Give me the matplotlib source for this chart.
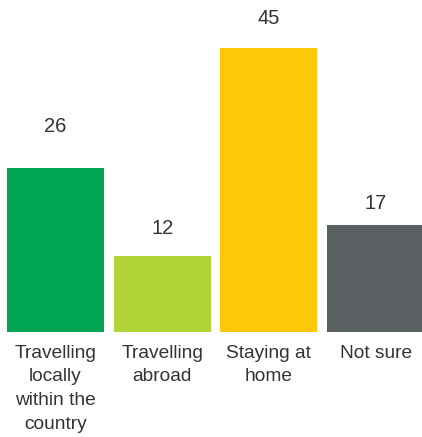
import matplotlib.pyplot as plt

categories = ["Travelling\nlocally\nwithin the\ncountry", "Travelling\nabroad", "Staying at\nhome", "Not sure"]
values = [26, 12, 45, 17]

bar_colors = ["#00A551", "#B2D335", "#FDC70A", "#5A5F61"]
# gap (pixels) between bar top and the value label baseline
label_gaps = [36, 22, 24, 16]
text_color = "#333333"

plt.rcParams["font.family"] = ["Liberation Sans", "DejaVu Sans"]

fig = plt.figure(figsize=(4.22, 4.37), dpi=100)
ax = fig.add_axes([0, 105 / 437, 1, 332 / 437])

x = range(len(values))
bars = ax.bar(x, values, width=0.91, color=bar_colors)

for b, v, gap in zip(bars, values, label_gaps):
    ax.annotate(str(v), (b.get_x() + b.get_width() / 2, v),
                xytext=(0, gap), textcoords="offset pixels",
                ha="center", va="baseline", fontsize=14.5, color=text_color)

ax.set_xlim(-0.52, 3.435)
ax.set_ylim(0, 52.6)
ax.set_xticks(list(x))
ax.set_xticklabels(categories, fontsize=13.8, color=text_color, linespacing=1.52)
ax.tick_params(axis="x", length=0, pad=9)
ax.set_yticks([])
for s in ax.spines.values():
    s.set_visible(False)

fig.savefig("out.png", dpi=100)
